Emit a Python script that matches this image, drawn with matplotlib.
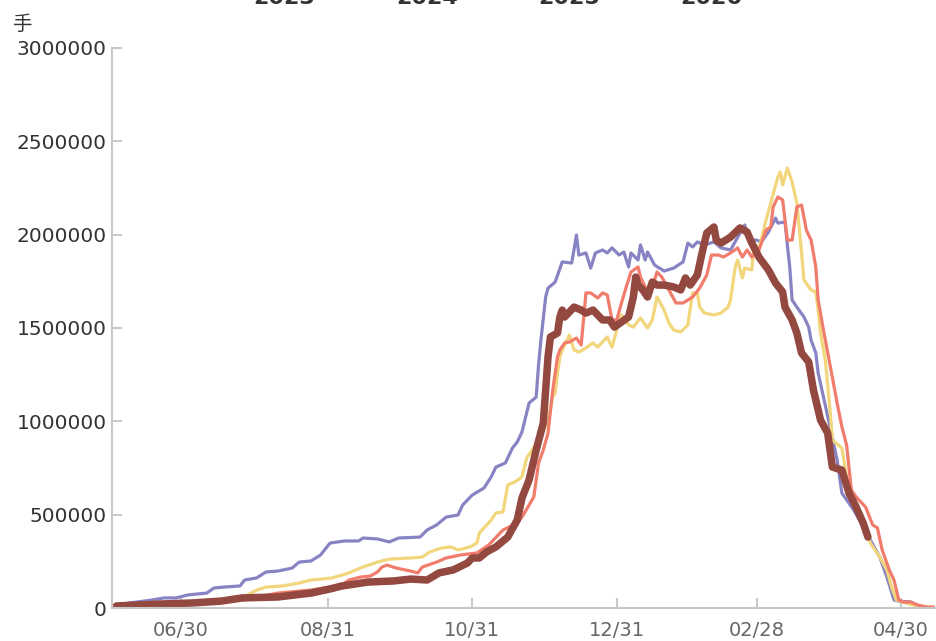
import matplotlib
matplotlib.use("Agg")
import matplotlib.pyplot as plt

# x = days since 06/01 of the season, y = 手
days_2023 = [1, 17, 22, 27, 32, 40, 43, 47, 54, 56, 61, 65, 70, 76, 79, 84, 88, 92, 98, 104,
             106, 112, 117, 121, 130, 133, 137, 141, 146, 148, 152, 157, 160, 162, 166, 169, 171,
             173, 176, 179, 180, 181, 183, 184, 187, 190, 194, 196, 197, 200, 202, 204, 207, 209,
             211, 214, 216, 218, 219, 222, 223, 225, 226, 229, 231, 233, 237, 241, 243, 245, 247,
             250, 254, 257, 261, 267, 269, 272, 274, 277, 280, 281, 284, 285, 286, 287, 289, 292,
             294, 295, 297, 298, 303, 306, 308, 313, 317, 320, 324, 327, 330, 332, 337, 341, 343]
vals_2023 = [16000, 43000, 54000, 54000, 70000, 80000, 107000, 112000, 118000, 150000, 161000,
             193000, 198000, 214000, 246000, 252000, 284000, 348000, 359000, 359000, 375000,
             370000, 354000, 375000, 380000, 418000, 445000, 487000, 498000, 552000, 605000,
             643000, 702000, 755000, 777000, 857000, 889000, 943000, 1098000, 1130000, 1302000,
             1436000, 1666000, 1714000, 1746000, 1854000, 1848000, 1998000, 1891000, 1902000,
             1821000, 1902000, 1918000, 1902000, 1929000, 1891000, 1907000, 1827000, 1902000,
             1864000, 1945000, 1864000, 1907000, 1837000, 1821000, 1805000, 1821000, 1854000,
             1955000, 1934000, 1961000, 1945000, 1961000, 1929000, 1918000, 2052000, 1971000,
             1971000, 1961000, 2014000, 2089000, 2062000, 2068000, 1945000, 1827000, 1650000,
             1612000, 1559000, 1505000, 1436000, 1366000, 1259000, 970000, 793000, 616000,
             525000, 434000, 364000, 273000, 166000, 43000, 37000, 32000, 5000, 5000]

days_2024 = [0, 37, 55, 61, 65, 72, 79, 84, 93, 100, 106, 112, 117, 126, 131, 134, 139, 143,
             146, 151, 154, 155, 160, 162, 165, 167, 170, 173, 175, 181, 184, 186, 187, 188, 189,
             190, 193, 195, 197, 200, 203, 205, 207, 209, 211, 213, 215, 218, 220, 223, 226, 228,
             230, 233, 235, 237, 240, 243, 245, 247, 248, 250, 254, 257, 260, 261, 263, 264, 266,
             267, 270, 271, 273, 276, 278, 281, 282, 283, 285, 287, 289, 291, 292, 295, 297, 298,
             299, 301, 303, 304, 308, 310, 313, 317, 320, 324, 327, 329, 331, 335, 341, 346]
vals_2024 = [16000, 27000, 54000, 96000, 112000, 118000, 134000, 150000, 161000, 188000, 220000,
             246000, 262000, 268000, 273000, 300000, 321000, 327000, 311000, 327000, 348000,
             402000, 471000, 509000, 514000, 659000, 675000, 702000, 804000, 916000, 1007000,
             1130000, 1152000, 1259000, 1345000, 1382000, 1462000, 1382000, 1371000, 1393000,
             1420000, 1398000, 1425000, 1452000, 1398000, 1489000, 1570000, 1516000, 1505000,
             1554000, 1500000, 1543000, 1666000, 1596000, 1527000, 1489000, 1479000, 1516000,
             1688000, 1688000, 1612000, 1580000, 1570000, 1580000, 1612000, 1650000, 1827000,
             1864000, 1768000, 1821000, 1811000, 1955000, 1918000, 2079000, 2170000, 2309000,
             2336000, 2266000, 2357000, 2282000, 2170000, 1902000, 1757000, 1704000, 1693000,
             1596000, 1473000, 1329000, 1061000, 900000, 857000, 702000, 579000, 455000, 348000,
             273000, 204000, 112000, 43000, 27000, 5000, 5000]

days_2025 = [1, 37, 55, 70, 84, 97, 100, 105, 109, 112, 114, 116, 120, 126, 129, 131, 137, 141,
             147, 154, 159, 165, 171, 173, 178, 180, 182, 184, 186, 188, 189, 191, 193, 196, 198,
             200, 202, 205, 207, 209, 211, 213, 215, 217, 219, 222, 223, 226, 228, 230, 232, 235,
             238, 241, 245, 248, 251, 253, 256, 258, 261, 264, 266, 268, 270, 273, 276, 278, 279,
             281, 283, 285, 287, 289, 291, 293, 295, 297, 298, 300, 303, 306, 308, 310, 312, 314,
             318, 321, 323, 325, 328, 330, 332, 334, 337, 340, 344, 347]
vals_2025 = [16000, 27000, 43000, 80000, 96000, 123000, 150000, 166000, 171000, 193000, 220000,
             230000, 214000, 198000, 188000, 220000, 246000, 268000, 284000, 295000, 338000,
             418000, 455000, 487000, 595000, 777000, 846000, 937000, 1168000, 1345000, 1382000,
             1420000, 1425000, 1446000, 1409000, 1688000, 1688000, 1661000, 1688000, 1677000,
             1543000, 1543000, 1634000, 1720000, 1800000, 1827000, 1773000, 1693000, 1720000,
             1800000, 1773000, 1704000, 1634000, 1634000, 1666000, 1714000, 1784000, 1891000,
             1891000, 1880000, 1902000, 1929000, 1880000, 1918000, 1880000, 1918000, 2025000,
             2041000, 2148000, 2202000, 2186000, 1971000, 1971000, 2148000, 2159000, 2025000,
             1971000, 1827000, 1650000, 1505000, 1302000, 1098000, 970000, 873000, 632000,
             595000, 541000, 445000, 429000, 311000, 204000, 150000, 43000, 32000, 32000, 16000,
             5000, 5000]

days_2026 = [2, 20, 34, 46, 55, 70, 84, 92, 97, 108, 119, 126, 133, 138, 144, 150, 152, 155,
             158, 162, 167, 171, 173, 176, 179, 182, 184, 185, 188, 189, 190, 191, 195, 198, 200,
             203, 207, 210, 212, 215, 218, 220, 221, 222, 224, 226, 228, 230, 233, 237, 240, 242,
             244, 247, 249, 251, 254, 255, 257, 261, 265, 268, 270, 273, 277, 280, 283, 284, 287,
             289, 291, 294, 296, 299, 302, 304, 308, 311, 314, 317, 319]
vals_2026 = [11000, 21000, 27000, 37000, 54000, 59000, 80000, 102000, 118000, 139000, 145000,
             155000, 150000, 188000, 204000, 241000, 268000, 268000, 300000, 327000, 380000,
             471000, 589000, 686000, 846000, 991000, 1345000, 1452000, 1473000, 1559000, 1596000,
             1559000, 1612000, 1596000, 1580000, 1596000, 1543000, 1543000, 1505000, 1532000,
             1559000, 1666000, 1773000, 1730000, 1704000, 1666000, 1746000, 1730000, 1730000,
             1720000, 1704000, 1768000, 1730000, 1784000, 1902000, 2009000, 2041000, 1971000,
             1955000, 1987000, 2036000, 2014000, 1955000, 1880000, 1811000, 1741000, 1693000,
             1612000, 1543000, 1473000, 1366000, 1318000, 1168000, 1007000, 937000, 755000,
             739000, 616000, 541000, 455000, 380000]

tick_days = [29, 91, 152, 213, 272, 333]
tick_labels = ['06/30', '08/31', '10/31', '12/31', '02/28', '04/30']
years = ['2023', '2024', '2025', '2026']

series = [
    (days_2023, vals_2023, '#8884C4', 2.3),
    (days_2024, vals_2024, '#F2D67C', 2.3),
    (days_2025, vals_2025, '#F17C6C', 2.3),
    (days_2026, vals_2026, '#934840', 5.4),
]

fig = plt.figure(figsize=(9.37, 6.41), dpi=100)
ax = fig.add_axes([112 / 937, 1 - 608 / 641, 823 / 937, 560 / 641])

for d, v, c, lw in series:
    ax.plot(d, v, color=c, lw=lw, solid_joinstyle='round', solid_capstyle='round')

ax.set_xlim(0, 347.3)
ax.set_ylim(0, 3000000)
ax.set_yticks(range(0, 3000001, 500000))
ax.set_yticklabels([str(t) for t in range(0, 3000001, 500000)])
ax.set_xticks(tick_days)
ax.set_xticklabels(tick_labels)

for s in ['top', 'right']:
    ax.spines[s].set_visible(False)
for s in ['left', 'bottom']:
    ax.spines[s].set_color('#c8c8c8')
    ax.spines[s].set_linewidth(1.5)

ax.tick_params(axis='y', direction='in', length=7, width=1.5, color='#c8c8c8',
               labelsize=14.5, labelcolor='#333333', pad=4)
ax.tick_params(axis='x', direction='in', length=7, width=1.5, color='#c8c8c8',
               labelsize=14, labelcolor='#666666', pad=9)

# legend labels (cut off by the top edge in the original)
legend_x = [284, 427, 569, 711]
for yr, lx in zip(years, legend_x):
    fig.text(lx / 937, 1 - 4 / 641, yr, ha='center', va='baseline',
             fontsize=16, fontweight='bold', color='#333333')

fig.text(12 / 937, 1 - 30 / 641, '手', ha='left', va='baseline',
         fontsize=14, color='#333333', family=['Noto Sans CJK SC', 'DejaVu Sans'])

fig.savefig('out.png', dpi=100)
